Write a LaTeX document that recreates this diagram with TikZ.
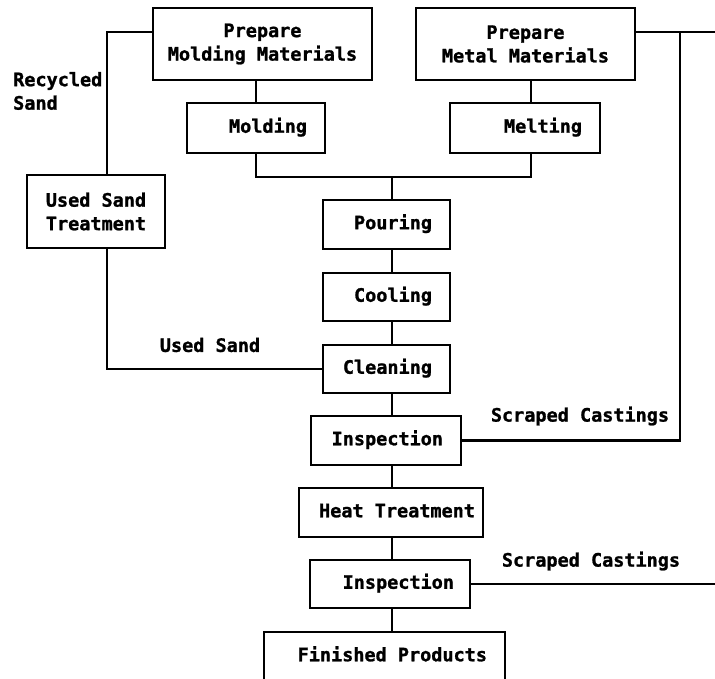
\documentclass[tikz,border=0pt]{standalone}
\usepackage{fontspec}
\newfontfamily\lblfont{DejaVu Sans Mono}[BoldFeatures={FakeBold=1.2}]
\newcommand{\lbl}{\lblfont\bfseries\fontsize{18.5}{23.5}\selectfont}
% right-set text in a field of the given width
\newcommand{\rset}[2]{\makebox[#1][r]{#2}}
\begin{document}
\begin{tikzpicture}[x=1pt,y=-1pt,
  line width=2.4pt,
  box/.style={draw, rectangle, font=\lbl, inner ysep=0pt},
  % box whose text is centred: width/height
  cbox/.style n args={2}{box, minimum width=#1, minimum height=#2,
              align=center, inner xsep=0pt},
  % one-line box: height, right padding (width comes from the text field)
  rbox/.style n args={2}{box, minimum height=#1, inner xsep=#2,
              text height=13.5pt, text depth=4pt},
  tag/.style={font=\lbl, inner sep=0pt}]
\useasboundingbox (0,0) rectangle (715,679);
\clip (0,0) rectangle (715,679);

% ---- stages ----
\node[cbox={219pt}{72pt}] (pmm) at (262.5,44) {Prepare\\Molding Materials};
\node[cbox={219pt}{72pt}] (pmetal) at (525.5,44) {Prepare\\Metal Materials};
\node[rbox={50pt}{18pt}] (mold) at (256,128) {\rset{102pt}{Molding}};
\node[rbox={50pt}{18pt}] (melt) at (525,128) {\rset{114pt}{Melting}};
\node[cbox={138pt}{73pt}] (usand) at (96,211.5) {Used Sand\\Treatment};
\node[rbox={49pt}{18pt}] (pour) at (386.5,224.5) {\rset{91pt}{Pouring}};
\node[rbox={48pt}{18pt}] (cool) at (386.5,297) {\rset{91pt}{Cooling}};
\node[rbox={48pt}{18pt}] (clean) at (386.5,369) {\rset{91pt}{Cleaning}};
\node[rbox={49pt}{18pt}] (insp1) at (386,440.5) {\rset{114pt}{Inspection}};
\node[rbox={49pt}{8pt}] (heat) at (391,512.5) {\rset{168pt}{Heat Treatment}};
\node[rbox={48pt}{16pt}] (insp2) at (390,584) {\rset{128pt}{Inspection}};
\node[rbox={49pt}{18pt}] (fin) at (384.5,656.5) {\rset{205pt}{Finished Products}};

% ---- flow labels ----
\node[tag, align=left, anchor=west] (rsand) at (12,91) {Recycled\\Sand};
\node[tag] (usedsand) at (210,345) {Used Sand};
\node[tag] (scrap1) at (580,416) {Scraped Castings};
\node[tag] (scrap2) at (591,561) {Scraped Castings};

% ---- junction points ----
\coordinate (jl) at (256,177);
\coordinate (jr) at (531,177);
\coordinate (jm) at (392,177);
\coordinate (lt) at (107,32);
\coordinate (rt) at (680,32);
\coordinate (edge) at (718,32);

% ---- main line ----
\draw (pmm.south -| jl) -- (mold.north -| jl);
\draw (pmetal.south -| jr) -- (melt.north -| jr);
\draw (mold.south -| jl) -- (jl) -- (jr) -- (melt.south -| jr);
\draw (jm) -- (pour.north -| jm);
\draw (pour.south -| jm) -- (cool.north -| jm);
\draw (cool.south -| jm) -- (clean.north -| jm);
\draw (clean.south -| jm) -- (insp1.north -| jm);
\draw (insp1.south -| jm) -- (heat.north -| jm);
\draw (heat.south -| jm) -- (insp2.north -| jm);
\draw (insp2.south -| jm) -- (fin.north -| jm);

% ---- sand loop ----
\draw (pmm.west |- lt) -- (lt) -- (usand.north -| lt);
\draw (usand.south -| lt) |- (clean.west);

% ---- scrap returns ----
\draw (pmetal.east |- rt) -- (edge);
\draw (rt) -- (rt |- insp1.east) -- (insp1.east);
\draw (insp2.east) -- (insp2.east -| edge);
\end{tikzpicture}
\end{document}
